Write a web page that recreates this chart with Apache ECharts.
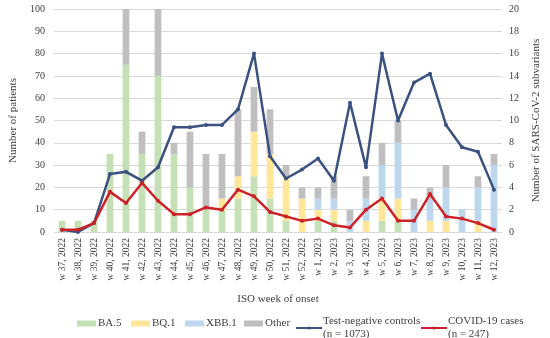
<!DOCTYPE html>
<html><head><meta charset="utf-8">
<script src="https://cdn.jsdelivr.net/npm/echarts@6/dist/echarts.min.js"></script>
<style>html,body{margin:0;padding:0;background:#fff}#c{width:550px;height:338px}</style>
</head><body><div id="c"></div>
<script>
var weeks = ['w 37, 2022','w 38, 2022','w 39, 2022','w 40, 2022','w 41, 2022','w 42, 2022','w 43, 2022','w 44, 2022','w 45, 2022','w 46, 2022','w 47, 2022','w 48, 2022','w 49, 2022','w 50, 2022','w 51, 2022','w 52, 2022','w 1, 2023','w 2, 2023','w 3, 2023','w 4, 2023','w 5, 2023','w 6, 2023','w 7, 2023','w 8, 2023','w 9, 2023','w 10, 2023','w 11, 2023','w 12, 2023'];
var ba5   = [1,1,1,7,15,7,14,7,4,2,2,3,5,3,1,0,1,1,0,0,1,1,0,0,0,0,0,0];
var bq1   = [0,0,0,0,0,0,0,0,0,0,1,2,4,4,4,3,1,1,0,1,2,2,0,1,1,0,1,0];
var xbb1  = [0,0,0,0,0,0,0,0,0,0,0,0,0,0,0,0,1,1,1,2,3,5,2,2,3,2,3,6];
var other = [0,0,0,0,5,2,6,1,5,5,4,6,4,4,1,1,1,2,1,2,2,2,1,1,2,0,1,1];
var controls = [1,0,4,26,27,23,29,47,47,48,48,55,80,34,24,28,33,23,58,29,80,50,67,71,48,38,36,19];
var cases    = [1,1,4,18,13,22,14,8,8,11,10,19,16,9,7,5,6,3,2,10,15,5,5,17,7,6,4,1];
var leftTicks = {min:0, max:100, interval:10};
var rightTicks = {min:0, max:20, interval:2};

var FONT = '"Liberation Serif", "DejaVu Serif", serif';
var TXT = '#404040';
var chart = echarts.init(document.getElementById('c'), null, {renderer:'canvas'});
function bar(name, data, color){
  return {name:name, type:'bar', stack:'v', yAxisIndex:1, data:data, barWidth:'42%',
    itemStyle:{color:color}, emphasis:{disabled:true}, z:2};
}
function line(name, data, color){
  return {name:name, type:'line', yAxisIndex:0, data:data, symbol:'circle', symbolSize:4,
    lineStyle:{color:color, width:2.5}, itemStyle:{color:color}, z:5, emphasis:{disabled:true}};
}
function barLegend(name, left){
  return {data:[name], left:left, top:313, itemWidth:19, itemHeight:6, icon:'rect', itemGap:0,
    textStyle:{fontFamily:FONT, fontSize:11, color:TXT, padding:[0,0,0,-3]}};
}
function lineLegend(name, left){
  return {data:[name], left:left, top:310, itemWidth:26, itemHeight:4, itemGap:0,
    textStyle:{fontFamily:FONT, fontSize:11, color:TXT, lineHeight:13, padding:[0,0,0,-4]}};
}
var N1 = 'Test-negative controls\n(n = 1073)';
var N2 = 'COVID-19 cases\n(n = 247)';
chart.setOption({
  animation:false,
  textStyle:{fontFamily:FONT, color:TXT},
  grid:{left:47, right:39, top:9, bottom:106},
  legend:[barLegend('BA.5',72), barLegend('BQ.1',126), barLegend('XBB.1',180), barLegend('Other',239),
    lineLegend(N1,290), lineLegend(N2,415)],
  xAxis:{type:'category', data:weeks, name:'ISO week of onset', nameLocation:'middle', nameGap:62,
    nameTextStyle:{fontFamily:FONT, fontSize:11, color:TXT},
    axisLine:{show:false}, axisTick:{show:false},
    axisLabel:{rotate:90, fontSize:9.5, fontFamily:FONT, color:TXT, interval:0, margin:6}},
  yAxis:[{type:'value', min:leftTicks.min, max:leftTicks.max, interval:leftTicks.interval,
    name:'Number of patients', nameLocation:'middle', nameGap:35, nameRotate:90,
    nameTextStyle:{fontFamily:FONT, fontSize:11, color:TXT},
    axisLine:{show:false}, axisTick:{show:false},
    axisLabel:{fontSize:10, fontFamily:FONT, color:TXT, margin:9},
    splitLine:{lineStyle:{color:'#d9d9d9', width:1}}},
   {type:'value', min:rightTicks.min, max:rightTicks.max, interval:rightTicks.interval, position:'right',
    name:'Number of SARS-CoV-2 subvariants', nameLocation:'middle', nameGap:29, nameRotate:90,
    nameTextStyle:{fontFamily:FONT, fontSize:11, color:TXT},
    axisLine:{show:false}, axisTick:{show:false},
    axisLabel:{fontSize:10, fontFamily:FONT, color:TXT, margin:7},
    splitLine:{show:false}}],
  series:[
    bar('BA.5', ba5, '#c5e0b4'),
    bar('BQ.1', bq1, '#ffe699'),
    bar('XBB.1', xbb1, '#bdd7ee'),
    bar('Other', other, '#bfbfbf'),
    line(N1, controls, '#3b5280'),
    line(N2, cases, '#cc2229')
  ]
});
</script></body></html>
